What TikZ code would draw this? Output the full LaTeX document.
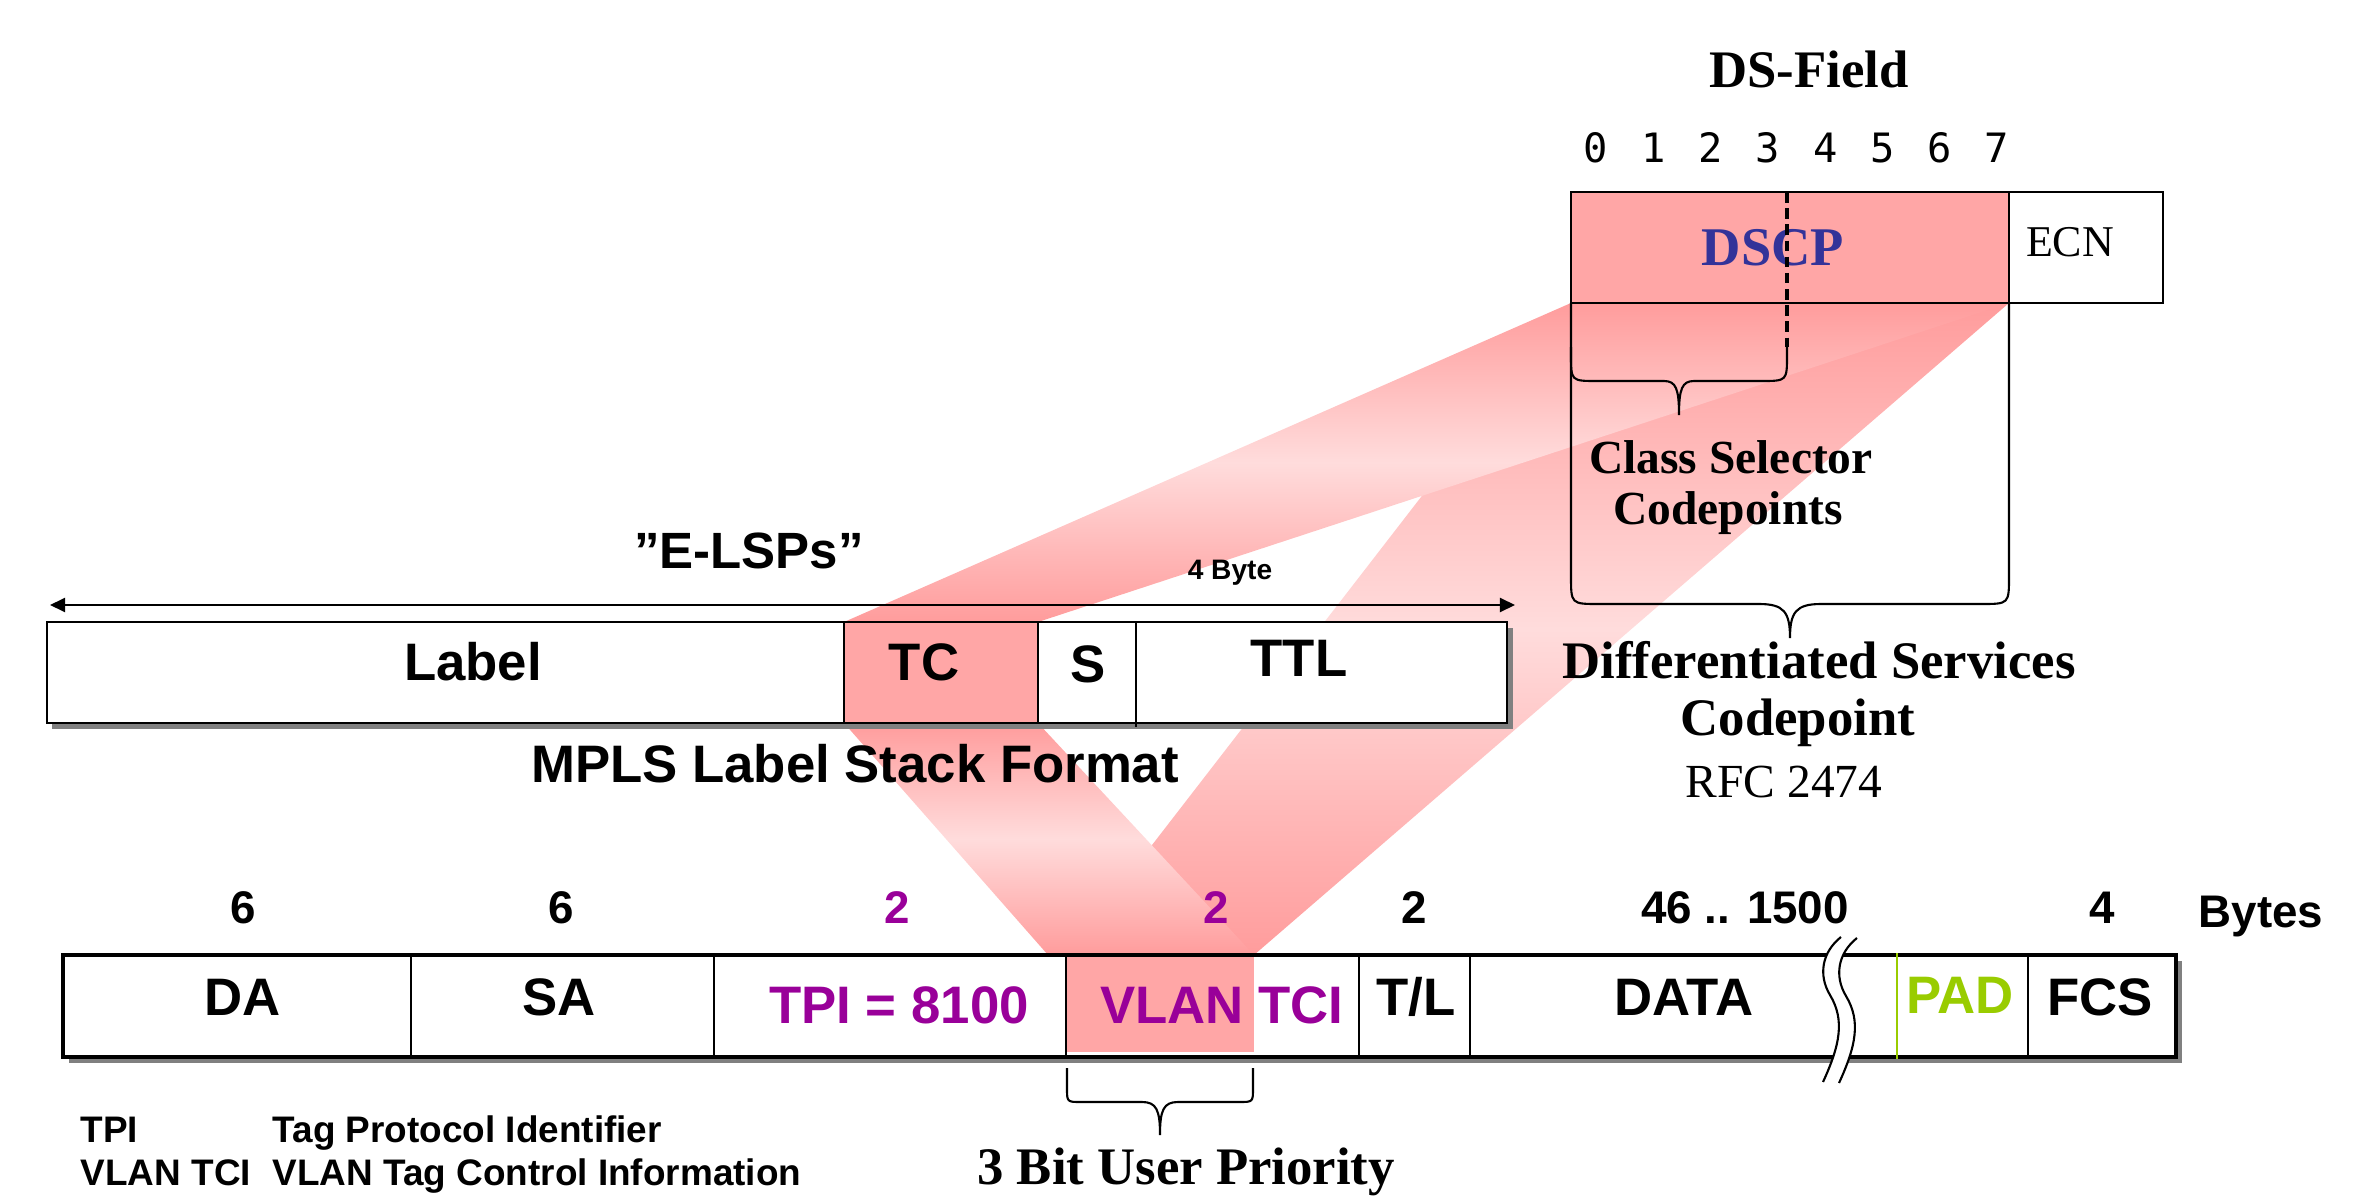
\documentclass[tikz,border=0pt]{standalone}
\usepackage{fontspec}
\setmainfont{Liberation Serif}
\newfontfamily\arialfont{Liberation Sans}
\newfontfamily\bitfont{DejaVu Sans Mono}
\usepackage{tikz}
\usetikzlibrary{arrows.meta}
\definecolor{dscpblue}{HTML}{333399}
\definecolor{tagpurple}{HTML}{990099}
\definecolor{padgreen}{HTML}{99CC00}
\definecolor{fieldpink}{HTML}{FFA6A6}
\definecolor{banddark}{HTML}{FF9C9C}
\definecolor{bandlight}{HTML}{FFDCDC}
\tikzstyle{txt}=[inner sep=0pt, anchor=base]
\tikzstyle{sansfield}=[txt, font=\arialfont\bfseries\fontsize{15}{18}\selectfont]
\tikzstyle{sansnum}=[txt, font=\arialfont\bfseries\fontsize{13}{16}\selectfont]
\tikzstyle{sanslegend}=[txt, anchor=base west, font=\arialfont\bfseries\fontsize{10.5}{12}\selectfont]
\tikzstyle{serifhead}=[txt, font=\bfseries\fontsize{15}{18}\selectfont]
\tikzstyle{serifsub}=[txt, font=\bfseries\fontsize{13.5}{16}\selectfont]
\tikzstyle{serifplain}=[txt, font=\fontsize{13.5}{16}\selectfont]
\tikzstyle{band}=[top color=banddark, bottom color=banddark, middle color=bandlight]
\tikzstyle{boxshadow}=[fill=black!50]
\tikzstyle{divider}=[line width=0.5pt]
\tikzstyle{bracestroke}=[line width=0.6pt]
% #1 left, #2 right, #3 top, #4 bar, #5 tip, #6 corner, #7 tip width
\newcommand{\bitBrace}[7]{
	\draw[bracestroke] (#1,#3) -- (#1,#4-#6) .. controls (#1,#4) .. (#1+#6,#4)
		-- ({(#1+#2)/2-#7},#4) .. controls ({(#1+#2)/2-0.2*#7},#4) and ({(#1+#2)/2},#4+8) .. ({(#1+#2)/2},#5)
		.. controls ({(#1+#2)/2},#4+8) and ({(#1+#2)/2+0.2*#7},#4) .. ({(#1+#2)/2+#7},#4)
		-- (#2-#6,#4) .. controls (#2,#4) .. (#2,#4-#6) -- (#2,#3);
}

\begin{document}
\begin{tikzpicture}[x=0.01cm,y=-0.01cm]
	\useasboundingbox (0,0) rectangle (2366,1197);
	\coordinate (dsBL) at (1571,303);
	\coordinate (dsBR) at (2009,303);
	\coordinate (tcTL) at (844,622);
	\coordinate (tcTR) at (1038,622);
	\coordinate (tcBL) at (844,723);
	\coordinate (tcBR) at (1038,723);
	\coordinate (vlTL) at (1067,955);
	\coordinate (vlTR) at (1254,955);
	\coordinate (vlTO) at (1048,955);
	% mapping bands
	\shade[band] (dsBL) -- (dsBR) -- (vlTR) -- (vlTL) -- cycle;
	\shade[band] (dsBL) -- (dsBR) -- (tcTR) -- (tcTL) -- cycle;
	\shade[band] (tcBL) -- (tcBR) -- (vlTR) -- (vlTO) -- cycle;
	% DS field
	\fill[fieldpink] (1571,192) rectangle (dsBR);
	\node[txt, font=\bfseries\fontsize{15.5}{18}\selectfont, text=dscpblue] (dscp) at (1773,265) {DSCP};
	\node[txt, font=\fontsize{12.5}{15}\selectfont] (ecn) at (2070,257) {ECN};
	\draw[line width=0.8pt] (1571,192) rectangle (2163,303);
	\draw[line width=0.8pt] (2009,192) -- (dsBR);
	\draw[line width=0.9pt, dash pattern=on 3pt off 1.6pt] (1787,192) -- (1787,347);
	\foreach \b in {0,...,7}
		\node[txt, font=\bitfont\fontsize{11.5}{14}\selectfont] (bit\b) at (1596+57.3*\b,163) {\b};
	\node[serifhead] (dsfield) at (1809,88) {DS-Field};
	\bitBrace{1571}{2009}{303}{604}{638}{28}{31}
	\bitBrace{1571}{1787}{347}{381}{415}{26}{15}
	\node[serifsub] (csel) at (1731,473) {Class Selector};
	\node[serifsub] (cselb) at (1728,524) {Codepoints};
	\node[serifhead] (diffserv) at (1819,678) {Differentiated Services};
	\node[serifhead] (diffservb) at (1798,735) {Codepoint};
	\node[serifplain] (rfc) at (1784,797) {RFC 2474};
	% MPLS label stack entry
	\coordinate (byteL) at (50,605);
	\coordinate (byteR) at (1515,605);
	\draw[line width=0.6pt, {Triangle[length=4.3pt,width=4pt]}-{Triangle[length=4.3pt,width=4pt]}] (byteL) -- (byteR);
	\node[txt, font=\arialfont\bfseries\fontsize{14.5}{17}\selectfont] (elsp) at (749,568) {”E-LSPs”};
	\node[txt, font=\arialfont\bfseries\fontsize{8}{10}\selectfont] (fourbyte) at (1230,579) {4 Byte};
	\fill[boxshadow] (52,628) rectangle (1513,729);
	\fill[white] (47,622) rectangle (1507,723);
	\fill[fieldpink] (tcTL) rectangle (tcBR);
	\draw[line width=0.7pt] (47,622) rectangle (1507,723);
	\draw[divider] (tcTL) -- (tcBL) (tcTR) -- (tcBR) (1136,622) -- (1136,727);
	\node[sansfield] (label) at (473,680) {Label};
	\node[sansfield] (tc) at (924,680) {TC};
	\node[sansfield] (sbit) at (1088,682) {S};
	\node[sansfield] (ttl) at (1299,676) {TTL};
	\node[sansfield] (mpls) at (855,782) {MPLS Label Stack Format};
	% tagged ethernet frame
	\node[sansnum] (nda) at (243,923) {6};
	\node[sansnum] (nsa) at (561,923) {6};
	\node[sansnum, text=tagpurple] (ntpi) at (897,923) {2};
	\node[sansnum, text=tagpurple] (ntci) at (1216,923) {2};
	\node[sansnum] (ntl) at (1414,923) {2};
	\node[sansnum] (ndata) at (1745,923) {46 .. 1500};
	\node[sansnum] (nfcs) at (2102,923) {4};
	\node[sansnum] (bytes) at (2261,927) {Bytes};
	\fill[boxshadow] (69,961) rectangle (2182,1063);
	\fill[white] (63,955) rectangle (2176,1057);
	\fill[fieldpink] (vlTL) rectangle (1254,1052);
	\draw[line width=1pt] (63,955) rectangle (2176,1057);
	\draw[divider] (411,955) -- (411,1057) (714,955) -- (714,1057) (1066,955) -- (1066,1057)
		(1359,955) -- (1359,1057) (1470,955) -- (1470,1057) (2028,955) -- (2028,1057);
	\draw[padgreen, line width=0.8pt] (1897,953) -- (1897,1059);
	\fill[white] (1841,937) .. controls (1822,952) and (1818,975) .. (1830,995) .. controls (1845,1020) and (1840,1045) .. (1823,1082)
		-- (1839,1083) .. controls (1856,1046) and (1861,1021) .. (1846,996) .. controls (1834,976) and (1838,953) .. (1857,938) -- cycle;
	\draw[line width=0.6pt] (1841,937) .. controls (1822,952) and (1818,975) .. (1830,995) .. controls (1845,1020) and (1840,1045) .. (1823,1082);
	\draw[line width=0.6pt] (1857,938) .. controls (1838,953) and (1834,976) .. (1846,996) .. controls (1861,1021) and (1856,1046) .. (1839,1083);
	\node[sansfield] (da) at (243,1015) {DA};
	\node[sansfield] (sa) at (559,1015) {SA};
	\node[sansfield, text=tagpurple] (tpi) at (899,1023) {TPI = 8100};
	\node[sansfield, text=tagpurple] (vlantci) at (1222,1023) {VLAN TCI};
	\node[sansfield] (tl) at (1416,1015) {T/L};
	\node[sansfield] (data) at (1684,1015) {DATA};
	\node[sansfield, text=padgreen] (pad) at (1960,1013) {PAD};
	\node[sansfield] (fcs) at (2100,1015) {FCS};
	\bitBrace{1067}{1253}{1068}{1102}{1135}{14}{18}
	\node[serifhead] (prio) at (1186,1184) {3 Bit User Priority};
	\node[sanslegend] (lgtpi) at (80,1142) {TPI};
	\node[sanslegend] (lgtpitext) at (272,1142) {Tag Protocol Identifier};
	\node[sanslegend] (lgtci) at (80,1185) {VLAN TCI};
	\node[sanslegend] (lgtcitext) at (272,1185) {VLAN Tag Control Information};
\end{tikzpicture}
\end{document}
